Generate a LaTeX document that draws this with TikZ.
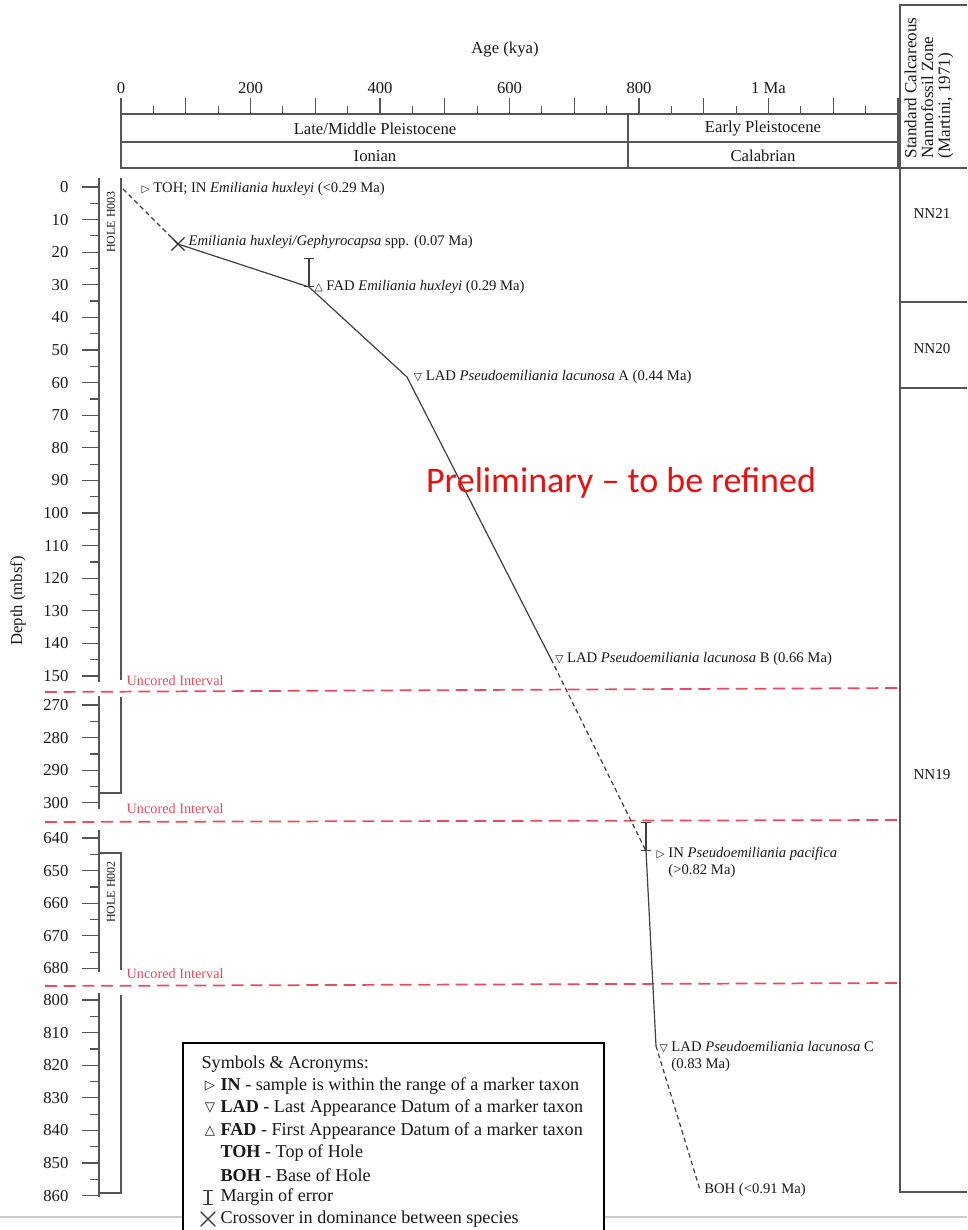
\documentclass[tikz,border=0pt]{standalone}
\usepackage{fontspec}
\setmainfont{Liberation Serif}
\newfontfamily\symfont{DejaVu Sans}
\newfontfamily\calfont{Carlito}
\usetikzlibrary{positioning,arrows.meta,shapes.misc}
\definecolor{gapred}{RGB}{236,74,92}
\definecolor{notered}{RGB}{234,16,16}
\definecolor{linegray}{RGB}{85,85,85}
\newcommand{\sym}[2][8]{{\symfont\fontsize{#1}{#1}\selectfont #2}}

\begin{document}
\begin{tikzpicture}[x=0.75pt, y=-0.75pt,
  every node/.style={text=black!90, inner sep=1pt},
  frame/.style={draw=linegray, line width=0.9pt},
  age line/.style={draw=black!75, line width=0.9pt},
  age dash/.style={age line, dash pattern=on 3.5pt off 2.5pt},
  gap line/.style={draw=gapred, line width=1.3pt, dash pattern=on 9pt off 5pt},
  gap text/.style={text=gapred, font=\fontsize{10.7}{12}\selectfont, anchor=west},
  err bar/.style={draw=black!75, line width=0.9pt, {Bar[width=7pt]}-{Bar[width=7pt]}},
  datum/.style={font=\fontsize{11}{12.75}\selectfont, anchor=west, align=left},
  big text/.style={font=\fontsize{12.5}{14}\selectfont},
  legend text/.style={font=\fontsize{13.6}{16}\selectfont, anchor=west},
  hole label/.style={font=\fontsize{9}{10}\selectfont, rotate=90}]

  \useasboundingbox (0,0) rectangle (967,1230);

  % page rule under the figure
  \draw[black!20, line width=0.8pt] (0,1217) -- (967,1217);

  % age axis
  \node[big text] (agetitle) at (505,50) {Age (kya)};
  \foreach \k in {0,50,...,1200} {
    \pgfmathsetmacro\xx{121+0.6475*\k}
    \pgfmathtruncatemacro\major{mod(\k,100)==0}
    \ifnum\major=1
      \draw[frame] (\xx,114) -- (\xx,98);
    \else
      \draw[frame] (\xx,114) -- (\xx,106);
    \fi
  }
  \foreach \k/\lab in {0/0,200/200,400/400,600/600,800/800,1000/1 Ma}
    \node[big text] (age\k) at ({121+0.6475*\k},88) {\lab};

  % epochs and stages
  \draw[frame] (121,114) rectangle (898,168);
  \draw[frame] (121,142) -- (898,142);
  \draw[frame] (628,114) -- (628,168);
  \node[big text] (late) at (375,129) {Late/Middle Pleistocene};
  \node[big text] (ionian) at (375,156) {Ionian};
  \node[big text] (early) at (763,129) {Early Pleistocene};
  \node[big text] (calab) at (763,156) {Calabrian};

  % nannofossil zones
  \draw[frame] (967,5) -- (900,5) -- (900,1192) -- (967,1192);
  \draw[frame] (900,168) -- (967,168);
  \draw[frame] (900,302) -- (967,302);
  \draw[frame] (900,388) -- (967,388);
  \node[big text, rotate=90, anchor=west, align=left,
        font=\fontsize{12.8}{12.6}\selectfont] (zonehead) at (929,160)
    {Standard Calcareous\\Nannofossil Zone\\(Martini, 1971)};
  \node[big text, font=\fontsize{11.3}{13}\selectfont] (nn21) at (932,214) {NN21};
  \node[big text, font=\fontsize{11.3}{13}\selectfont] (nn20) at (932,349) {NN20};
  \node[big text, font=\fontsize{11.3}{13}\selectfont] (nn19) at (932,775) {NN19};

  % depth axis, four pieces
  \node[big text, rotate=90] (depthtitle) at (18,601) {Depth (mbsf)};
  \foreach \first/\last/\ytop/\ya/\yb in {0/150/187/178/682, 270/300/705/696/809,
                                          640/680/838/830/972, 800/860/1000/993/1197} {
    \draw[frame] (99,\ya) -- (99,\yb);
    \pgfmathtruncatemacro\second{\first+5}
    \foreach \d in {\first,\second,...,\last} {
      \pgfmathsetmacro\yy{\ytop+(\d-\first)*3.26}
      \pgfmathtruncatemacro\isten{mod(\d,10)==0}
      \ifnum\isten=1
        \draw[frame] (82,\yy) -- (99,\yy);
        \node[big text, anchor=east] at (70,\yy) {\d};
      \else
        \draw[frame] (90,\yy) -- (99,\yy);
      \fi
    }
  }

  % holes
  \draw[frame] (121,178) -- (121,680);
  \draw[frame] (121,697) -- (121,793) -- (99,793);
  \draw[frame] (99,853) -- (121,853) -- (121,970);
  \draw[frame] (121,995) -- (121,1193) -- (99,1193);
  \node[hole label] (h003) at (111,222) {HOLE H003};
  \node[hole label] (h002) at (111,892) {HOLE H002};

  % uncored intervals
  \draw[gap line] (45,692) -- (900,688);
  \draw[gap line] (45,822) -- (900,820);
  \draw[gap line] (45,986) -- (900,983);
  \node[gap text] (gap1) at (125,681) {Uncored Interval};
  \node[gap text] (gap2) at (125,809) {Uncored Interval};
  \node[gap text] (gap3) at (125,974) {Uncored Interval};

  % age model
  \coordinate (toh) at (123,189);
  \coordinate (cross) at (178,244);
  \coordinate (fadE) at (309,287);
  \coordinate (fadEtop) at (309,258);
  \coordinate (ladA) at (407,377);
  \coordinate (ladB) at (551,659);
  \coordinate (inP) at (646,851);
  \coordinate (inPtop) at (646,822);
  \coordinate (ladC) at (656,1046);
  \coordinate (boh) at (700,1190);

  \draw[age dash] (toh) -- (cross);
  \draw[age line] (cross) -- (fadE) -- (ladA) -- (ladB);
  \draw[age dash] (ladB) -- (inP);
  \draw[age line] (inP) -- (ladC);
  \draw[age dash] (ladC) -- (boh);
  \draw[err bar] (fadE) -- (fadEtop);
  \draw[err bar] (inP) -- (inPtop);
  \node[draw=black!80, cross out, line width=0.9pt, minimum size=9pt] (crossmark) at (cross) {};

  \node[datum] (lbtoh) at (140,189) {\sym{▷} TOH; IN \textit{Emiliania huxleyi} (<0.29 Ma)};
  \node[datum] (lbcross) at (187,242) {\textit{Emiliania huxleyi/Gephyrocapsa} spp. (0.07 Ma)};
  \node[datum, right=3pt of fadE] (lbfad) {\sym{△} FAD \textit{Emiliania huxleyi} (0.29 Ma)};
  \node[datum, right=4pt of ladA] (lblada) {\sym{▽} LAD \textit{Pseudoemiliania lacunosa} A (0.44 Ma)};
  \node[datum, right=2pt of ladB] (lbladb) {\sym{▽} LAD \textit{Pseudoemiliania lacunosa} B (0.66 Ma)};
  \node[datum, anchor=north west] (lbin) at (655,846)
    {\sym{▷} IN \textit{Pseudoemiliania pacifica}\\\hphantom{\sym{▷} }(>0.82 Ma)};
  \node[datum, anchor=north west] (lbladc) at (658,1040)
    {\sym{▽} LAD \textit{Pseudoemiliania lacunosa} C\\\hphantom{\sym{▽} }(0.83 Ma)};
  \node[datum, right=2pt of boh] (lbboh) {BOH (<0.91 Ma)};

  \node[text=notered, font=\calfont\fontsize{27}{30}\selectfont] (prelim) at (621,483)
    {Preliminary – to be refined};

  % legend
  \fill[white] (183,1043) rectangle (604,1232);
  \draw[black, line width=1.2pt] (183,1232) -- (183,1043) -- (604,1043) -- (604,1232);
  \node[legend text] (lgtitle) at (200,1064) {Symbols \& Acronyms:};
  \node (lginsym) at (210,1086) {\sym[10]{▷}};
  \node[legend text] (lgin) at (219,1086) {\textbf{IN} - sample is within the range of a marker taxon};
  \node (lgladsym) at (210,1108) {\sym[10]{▽}};
  \node[legend text] (lglad) at (219,1108) {\textbf{LAD} - Last Appearance Datum of a marker taxon};
  \node (lgfadsym) at (210,1131) {\sym[10]{△}};
  \node[legend text] (lgfad) at (219,1131) {\textbf{FAD} - First Appearance Datum of a marker taxon};
  \node[legend text] (lgtoh) at (219,1153) {\textbf{TOH} - Top of Hole};
  \node[legend text] (lgboh) at (219,1175) {\textbf{BOH} - Base of Hole};
  \coordinate (lgbartop) at (208,1190);
  \coordinate (lgbarbot) at (208,1205);
  \draw[err bar] (lgbartop) -- (lgbarbot);
  \node[legend text] (lgerr) at (219,1197) {Margin of error};
  \node[draw=black!80, cross out, line width=0.9pt, minimum size=10pt] (lgcross) at (208,1219) {};
  \node[legend text] (lgcr) at (219,1219) {Crossover in dominance between species};
\end{tikzpicture}
\end{document}
